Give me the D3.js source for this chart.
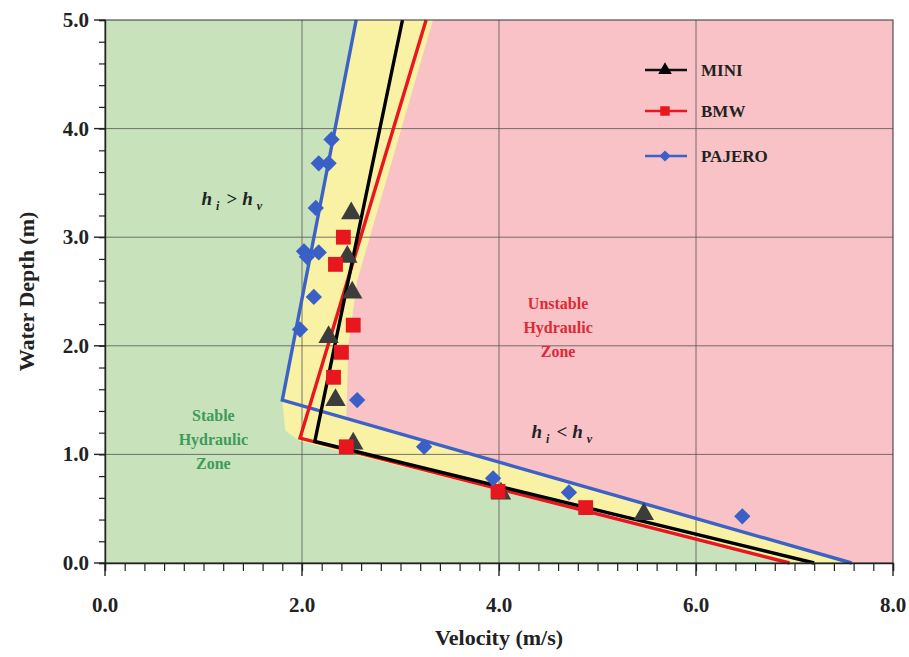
<!DOCTYPE html>
<html>
<head>
<meta charset="utf-8">
<script src="https://cdn.jsdelivr.net/npm/d3@7"></script>
<style>
  body { margin: 0; background: #fff; }
  svg text { font-family: "Liberation Serif", "Times New Roman", serif; font-weight: bold; }
</style>
</head>
<body>
<svg id="chart" width="909" height="657"></svg>
<script>
// data (velocity m/s, depth m)
const miniPts = [[2.50, 3.22], [2.46, 2.82], [2.51, 2.49], [2.27, 2.08], [2.34, 1.50],
                 [2.52, 1.10], [4.02, 0.64], [5.47, 0.45]];
const bmwPts = [[2.42, 3.00], [2.34, 2.75], [2.52, 2.19], [2.40, 1.94], [2.32, 1.71],
                [2.45, 1.07], [3.99, 0.66], [4.88, 0.51]];
const pajeroPts = [[2.30, 3.90], [2.17, 3.68], [2.27, 3.68], [2.14, 3.27], [2.02, 2.87],
                   [2.05, 2.82], [2.17, 2.86], [2.12, 2.45], [1.98, 2.15], [2.56, 1.50],
                   [3.24, 1.07], [3.94, 0.78], [4.71, 0.65], [6.47, 0.43]];

// threshold lines
const miniLine = [[3.02, 5.0], [2.13, 1.12], [7.20, 0.0]];
const bmwLine = [[3.26, 5.0], [1.98, 1.15], [6.95, 0.0]];
const pajeroLine = [[2.55, 5.0], [1.80, 1.50], [7.58, 0.0]];

// zone outlines
const yellowZone = [[2.55, 5.0], [1.80, 1.50], [1.83, 1.22], [1.98, 1.12], [6.95, 0.0], [7.58, 0.0],
                    [2.45, 1.33], [2.47, 2.0], [2.56, 2.6], [3.33, 5.0]];
const pinkZone = [[3.33, 5.0], [8.0, 5.0], [8.0, 0.0], [7.58, 0.0], [2.45, 1.33], [2.47, 2.0], [2.56, 2.6]];

const xTicks = [0, 2, 4, 6, 8];
const yTicks = [0, 1, 2, 3, 4, 5];

const margin = { top: 20, right: 16, bottom: 94, left: 105 };
const svg = d3.select('#chart');
const width = 909 - margin.left - margin.right;
const height = 657 - margin.top - margin.bottom;

const x = d3.scaleLinear().domain([0, 8]).range([0, width]);
const y = d3.scaleLinear().domain([0, 5]).range([height, 0]);

const g = svg.append('g').attr('transform', `translate(${margin.left},${margin.top})`);

// zones
g.append('rect').attr('width', width).attr('height', height).attr('fill', '#c8e3bb');
const area = d3.line().x(d => x(d[0])).y(d => y(d[1]));
g.append('path').attr('d', area(pinkZone) + 'Z').attr('fill', '#f8c2c6');
g.append('path').attr('d', area(yellowZone) + 'Z').attr('fill', '#f9f1a4');

// grid
g.append('g').selectAll('line').data([2, 4, 6]).join('line')
  .attr('x1', d => x(d)).attr('x2', d => x(d)).attr('y1', 0).attr('y2', height)
  .attr('stroke', '#555').attr('stroke-width', 0.8);
g.append('g').selectAll('line').data([1, 2, 3, 4]).join('line')
  .attr('y1', d => y(d)).attr('y2', d => y(d)).attr('x1', 0).attr('x2', width)
  .attr('stroke', '#555').attr('stroke-width', 0.8);

// lines
const series = [
  { name: 'PAJERO', line: pajeroLine, pts: pajeroPts, color: '#3d62c6', mark: 'diamond' },
  { name: 'BMW', line: bmwLine, pts: bmwPts, color: '#e8161e', mark: 'square' },
  { name: 'MINI', line: miniLine, pts: miniPts, color: '#000', mark: 'triangle' }
];
const markColor = { diamond: '#3a5fc6', square: '#e8161e', triangle: '#3c3c3c' };
const symbolOf = {
  diamond: d3.symbol().type(d3.symbolDiamond2).size(170),
  square: d3.symbol().type(d3.symbolSquare).size(220),
  triangle: d3.symbol().type(d3.symbolTriangle).size(180)
};

series.forEach(s => {
  g.append('path').attr('d', area(s.line)).attr('fill', 'none')
    .attr('stroke', s.color).attr('stroke-width', 3.4).attr('stroke-linejoin', 'miter');
});

// points
[series[2], series[1], series[0]].forEach(s => {
  g.append('g').selectAll('path').data(s.pts).join('path')
    .attr('d', symbolOf[s.mark])
    .attr('transform', d => `translate(${x(d[0])},${y(d[1])})`)
    .attr('fill', markColor[s.mark]);
});

// frame
g.append('rect').attr('width', width).attr('height', height)
  .attr('fill', 'none').attr('stroke', '#333').attr('stroke-width', 1);

// axes
const xAxis = d3.axisBottom(x).tickValues(d3.range(0, 8.01, 0.2)).tickSize(8).tickFormat('');
const yAxis = d3.axisLeft(y).tickValues(d3.range(0, 5.01, 0.2)).tickSize(6).tickFormat('');
const xAxisG = g.append('g').attr('transform', `translate(0,${height})`).call(xAxis);
const yAxisG = g.append('g').call(yAxis);
[xAxisG, yAxisG].forEach(a => {
  a.select('.domain').attr('stroke', '#222').attr('stroke-width', 1.4);
  a.selectAll('.tick line').attr('stroke', '#222').attr('stroke-width', 1.2);
});
g.append('g').selectAll('line').data(xTicks).join('line')
  .attr('x1', d => x(d)).attr('x2', d => x(d)).attr('y1', height).attr('y2', height + 13)
  .attr('stroke', '#222').attr('stroke-width', 1.4);
g.append('g').selectAll('line').data(yTicks).join('line')
  .attr('y1', d => y(d)).attr('y2', d => y(d)).attr('x1', 0).attr('x2', -11)
  .attr('stroke', '#222').attr('stroke-width', 1.4);

g.append('g').selectAll('text').data(xTicks).join('text')
  .attr('x', d => x(d)).attr('y', height + 49)
  .attr('text-anchor', 'middle').attr('font-size', 21).attr('fill', '#222')
  .text(d => d.toFixed(1));
g.append('g').selectAll('text').data(yTicks).join('text')
  .attr('x', -16).attr('y', d => y(d) + 7)
  .attr('text-anchor', 'end').attr('font-size', 21).attr('fill', '#222')
  .text(d => d.toFixed(1));

svg.append('text').attr('x', margin.left + x(4)).attr('y', 645)
  .attr('text-anchor', 'middle').attr('font-size', 22).attr('fill', '#222')
  .text('Velocity (m/s)');
svg.append('text').attr('transform', `translate(34,${margin.top + y(2.5)}) rotate(-90)`)
  .attr('text-anchor', 'middle').attr('font-size', 22).attr('fill', '#222')
  .text('Water Depth (m)');

// zone labels
function zoneLabel(lines, cx, cy, color) {
  g.append('text').attr('text-anchor', 'middle').attr('font-size', 16).attr('fill', color)
    .selectAll('tspan').data(lines).join('tspan')
    .attr('x', cx).attr('y', (d, i) => cy + i * 24).text(d => d);
}
zoneLabel(['Unstable', 'Hydraulic', 'Zone'], x(4.6), y(2.34), '#dd2a36');
zoneLabel(['Stable', 'Hydraulic', 'Zone'], x(1.1), y(1.31), '#3e9b5c');

function hLabel(cx, cy, sign) {
  const t = g.append('text').attr('x', cx).attr('y', cy).attr('font-size', 19)
    .attr('font-style', 'italic').attr('fill', '#222');
  t.append('tspan').text('h');
  t.append('tspan').attr('font-size', 12).attr('dy', 5).attr('dx', 4).text('i');
  t.append('tspan').attr('dy', -5).attr('dx', 7).attr('font-style', 'normal').text(sign);
  t.append('tspan').attr('dx', 5).text('h');
  t.append('tspan').attr('font-size', 12).attr('dy', 5).attr('dx', 4).text('v');
}
hLabel(x(0.98), y(3.3), '>');
hLabel(x(4.33), y(1.15), '<');

// legend
const legendItems = [series[2], series[1], series[0]];
const lg = svg.append('g').attr('transform', 'translate(645,70)');
legendItems.forEach((s, i) => {
  const row = lg.append('g').attr('transform', `translate(0,${[0, 41, 86][i]})`);
  row.append('line').attr('x1', 0).attr('x2', 42).attr('stroke', s.color === '#000' ? '#111' : s.color)
    .attr('stroke-width', 2.6);
  row.append('path').attr('d', d3.symbol().type(
      s.mark === 'diamond' ? d3.symbolDiamond2 : s.mark === 'square' ? d3.symbolSquare : d3.symbolTriangle)
      .size(s.mark === 'square' ? 90 : 80))
    .attr('transform', 'translate(20,0)')
    .attr('fill', s.mark === 'triangle' ? '#000' : markColor[s.mark]);
  row.append('text').attr('x', 56).attr('y', 6).attr('font-size', 17).attr('fill', '#222').text(s.name);
});
</script>
</body>
</html>
